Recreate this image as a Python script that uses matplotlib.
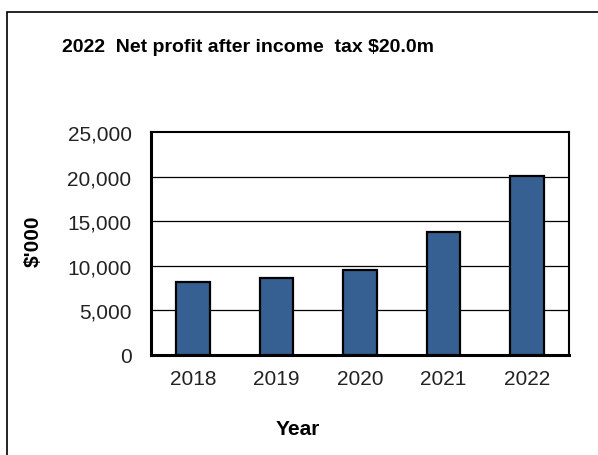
import numpy as np
import matplotlib.pyplot as plt
from matplotlib.patches import Rectangle
from matplotlib.ticker import FuncFormatter

plt.rcParams['font.family'] = ['Liberation Sans', 'DejaVu Sans']

years = ['2018', '2019', '2020', '2021', '2022']
profit = [8150, 8650, 9550, 13800, 20050]
yticks = [0, 5000, 10000, 15000, 20000, 25000]

W, H = 598, 456
fig = plt.figure(figsize=(W / 100, H / 100), dpi=100)
ax = fig.add_axes([151 / W, 1 - 356 / H, 418 / W, 223 / H])

x = np.arange(len(years))
ax.bar(x, profit, width=0.4, color='#366092', edgecolor='black', linewidth=1.6, zorder=3)

ax.set_xlim(-0.5, len(years) - 0.5)
ax.set_ylim(0, 25000)
ax.set_yticks(yticks)
ax.yaxis.set_major_formatter(FuncFormatter(lambda v, p: f'{int(v):,}'))
ax.set_xticks(x)
ax.set_xticklabels(years)
ax.tick_params(axis='y', length=0, pad=14, labelsize=15, labelcolor='#222222')
ax.tick_params(axis='x', length=0, pad=10, labelsize=15, labelcolor='#222222')

for v in yticks[1:-1]:
    ax.axhline(v, color='black', lw=0.9, zorder=1)

for s in ['left', 'bottom']:
    ax.spines[s].set_linewidth(2.2)
for s in ['top', 'right']:
    ax.spines[s].set_linewidth(1.5)

fig.text(62 / W, 1 - 47 / H, '2022  Net profit after income  tax $20.0m',
         fontsize=14, fontweight='bold', ha='left', va='center')
fig.text(33 / W, 1 - 241 / H, "$'000", fontsize=15, fontweight='bold',
         rotation=90, ha='center', va='center')
fig.text(298 / W, 1 - 430 / H, 'Year', fontsize=15, fontweight='bold',
         ha='center', va='center')

# outer frame, runs off the right and bottom edge
fig.patches.append(Rectangle((7 / W, -0.1), 1.2, 1 - 13 / H + 0.1,
                             transform=fig.transFigure, fill=False,
                             edgecolor='black', lw=1.2, clip_on=False))

fig.savefig('out.png', dpi=100)
